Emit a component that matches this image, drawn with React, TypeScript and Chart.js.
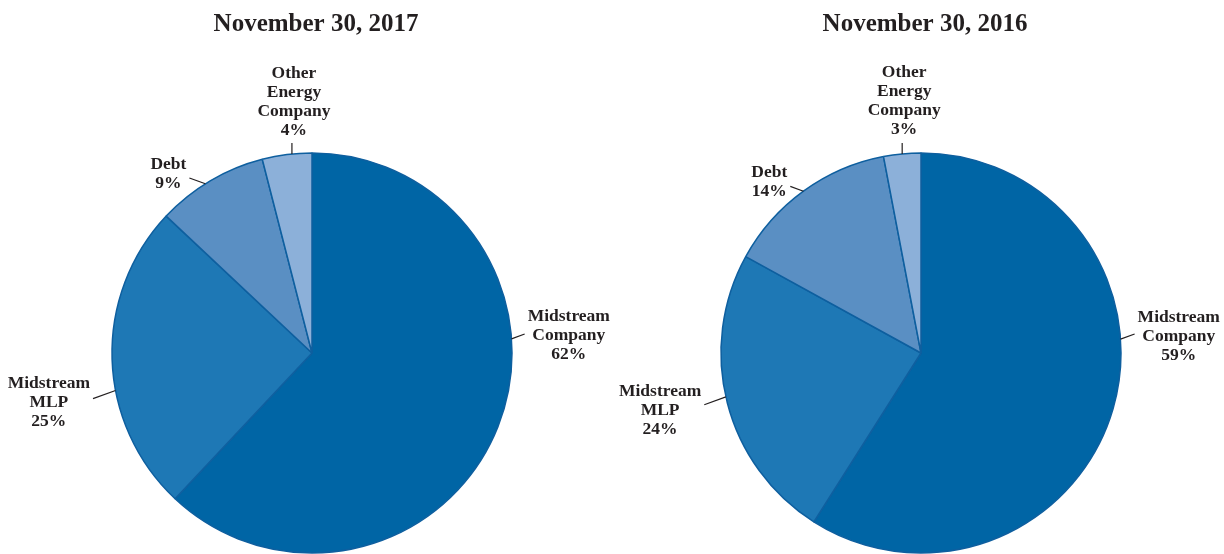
import React, { useEffect, useRef } from "react";
import { Chart, registerables } from "chart.js";

Chart.register(...registerables);

const categories = ["Midstream Company", "Midstream MLP", "Debt", "Other Energy Company"];
const labelLines = [
  ["Midstream", "Company"],
  ["Midstream", "MLP"],
  ["Debt"],
  ["Other", "Energy", "Company"],
];
const titles = ["November 30, 2017", "November 30, 2016"];
const values2017 = [62, 25, 9, 4];
const values2016 = [59, 24, 14, 3];
const colors = ["#0065a5", "#1e78b5", "#5a8fc3", "#8cb0d9"];
// where along each slice the leader line sits (0 = slice start, 1 = slice end)
const anchors2017 = [0.385, 0.4, 0.45, 0.6];
const anchors2016 = [0.405, 0.52, 0.5, 0.5];
const lineLens2017 = [14, 24, 17, 11];
const lineLens2016 = [15, 23, 14, 11];
// vertical nudge of each label block relative to its leader-line end
const labelDy2017 = [1, 4, -4, 0];
const labelDy2016 = [2, 6, -4, 0];

const FONT = 'bold 17.5px "Liberation Serif", "Times New Roman", serif';
const TEXT = "#231f20";

function makeLabelPlugin(
  title: string,
  anchors: number[],
  lens: number[],
  pcts: number[],
  ldy: number[]
) {
  return {
    id: "pieLabels",
    afterDatasetsDraw(chart: any) {
      const ctx = chart.ctx;
      const meta = chart.getDatasetMeta(0);
      const area = chart.chartArea;
      ctx.save();
      // title
      ctx.fillStyle = TEXT;
      ctx.font = 'bold 25px "Liberation Serif", "Times New Roman", serif';
      ctx.textAlign = "center";
      ctx.textBaseline = "middle";
      ctx.fillText(title, (area.left + area.right) / 2 + 4, 25);

      meta.data.forEach((arc: any, i: number) => {
        const a = arc.startAngle + anchors[i] * (arc.endAngle - arc.startAngle);
        const r = arc.outerRadius;
        const cx = arc.x;
        const cy = arc.y;
        const sx = cx + Math.cos(a) * r;
        const sy = cy + Math.sin(a) * r;
        const top = Math.abs(Math.cos(a)) < 0.2;
        let dx: number;
        let dy: number;
        if (top) {
          dx = 0;
          dy = Math.sign(Math.sin(a));
        } else {
          const tilt = (20 * Math.PI) / 180;
          dx = Math.sign(Math.cos(a)) * Math.cos(tilt);
          dy = Math.sign(Math.sin(a)) * Math.sin(tilt);
        }
        const ex = sx + dx * lens[i];
        const ey = sy + dy * lens[i];
        ctx.strokeStyle = "#231f20";
        ctx.lineWidth = 1.2;
        ctx.beginPath();
        ctx.moveTo(sx, sy);
        ctx.lineTo(ex, ey);
        ctx.stroke();

        const lines = [...labelLines[i], pcts[i] + "%"];
        ctx.font = FONT;
        ctx.fillStyle = TEXT;
        ctx.textAlign = "center";
        ctx.textBaseline = "middle";
        const w = Math.max(...lines.map((l) => ctx.measureText(l).width));
        const lh = 19;
        const n = lines.length;
        let tx: number;
        let firstY: number;
        if (top) {
          tx = ex + 2;
          firstY = ey - 13 - (n - 1) * lh + ldy[i];
        } else if (Math.cos(a) > 0) {
          tx = ex + 3 + w / 2;
          firstY = ey + ldy[i] - ((n - 1) * lh) / 2;
        } else {
          tx = ex - 3 - w / 2;
          firstY = ey + ldy[i] - ((n - 1) * lh) / 2;
        }
        lines.forEach((l, k) => ctx.fillText(l, tx, firstY + k * lh));
      });
      ctx.restore();
    },
  };
}

function PieCanvas(props: {
  left: number;
  values: number[];
  title: string;
  anchors: number[];
  lens: number[];
  ldy: number[];
  padding: { left: number; right: number; top: number; bottom: number };
}) {
  const ref = useRef<HTMLCanvasElement | null>(null);
  useEffect(() => {
    if (!ref.current) return;
    const chart = new Chart(ref.current, {
      type: "pie",
      data: {
        labels: categories,
        datasets: [
          {
            data: props.values,
            backgroundColor: colors,
            borderColor: "#0e5f9f",
            borderWidth: 1.5,
          },
        ],
      },
      options: {
        responsive: false,
        animation: false,
        radius: 200,
        layout: { padding: props.padding },
        plugins: {
          legend: { display: false },
          tooltip: { enabled: false },
          title: { display: false },
        },
        events: [],
      } as any,
      plugins: [makeLabelPlugin(props.title, props.anchors, props.lens, props.values, props.ldy)],
    });
    return () => chart.destroy();
  }, []);
  return (
    <canvas
      ref={ref}
      width={612}
      height={554}
      style={{ position: "absolute", left: props.left, top: 0, width: 612, height: 554 }}
    />
  );
}

export default function App() {
  return (
    <div
      style={{
        position: "fixed",
        left: 0,
        top: 0,
        width: 1224,
        height: 554,
        background: "#ffffff",
        overflow: "hidden",
      }}
    >
      <PieCanvas
        left={0}
        values={values2017}
        title={titles[0]}
        anchors={anchors2017}
        lens={lineLens2017}
        ldy={labelDy2017}
        padding={{ left: 112, right: 100, top: 153, bottom: 1 }}
      />
      <PieCanvas
        left={612}
        values={values2016}
        title={titles[1]}
        anchors={anchors2016}
        lens={lineLens2016}
        ldy={labelDy2016}
        padding={{ left: 109, right: 103, top: 153, bottom: 1 }}
      />
    </div>
  );
}
